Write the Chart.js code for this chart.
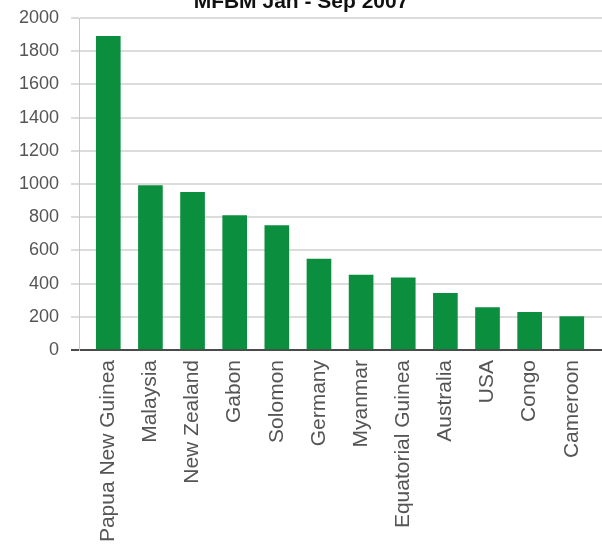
<!DOCTYPE html>
<html>
<head>
<meta charset="utf-8">
<script src="https://cdn.jsdelivr.net/npm/chart.js@4/dist/chart.umd.min.js"></script>
<style>
  html, body { margin: 0; padding: 0; background: #fff; overflow: hidden; }
  /* the reference crops the top of the title, so the canvas starts a little above the page */
  #wrap { width: 602px; height: 562px; margin-top: -10px; }
</style>
</head>
<body>
<div id="wrap"><canvas id="chart" width="602" height="562"></canvas></div>
<script>
const chartTitle = 'MFBM Jan - Sep 2007';
const countries = ['Papua New Guinea', 'Malaysia', 'New Zealand', 'Gabon', 'Solomon', 'Germany',
    'Myanmar', 'Equatorial Guinea', 'Australia', 'USA', 'Congo', 'Cameroon'];
const volumes = [1890, 990, 950, 810, 750, 548, 452, 435, 341, 255, 227, 201];
const yTicks = [0, 200, 400, 600, 800, 1000, 1200, 1400, 1600, 1800, 2000];

document.addEventListener('DOMContentLoaded', function() {
    const ctx = document.getElementById('chart').getContext('2d');
    const font = "'Liberation Sans', Arial, sans-serif";

    // bars are placed on a numeric axis so the left/right margins can match the picture
    const points = volumes.map((v, i) => ({ x: i, y: v }));

    new Chart(ctx, {
        type: 'bar',
        data: {
            datasets: [{
                label: chartTitle,
                data: points,
                backgroundColor: '#0b8e3e',
                borderWidth: 0,
                barThickness: 24
            }]
        },
        options: {
            responsive: false,
            animation: false,
            layout: { padding: 0 },
            plugins: {
                legend: { display: false },
                tooltip: { enabled: false },
                title: {
                    display: true,
                    text: chartTitle,
                    color: '#111',
                    font: { family: font, size: 21, weight: 'bold' },
                    padding: { top: 0, bottom: 2.8 }
                }
            },
            scales: {
                x: {
                    type: 'linear',
                    offset: false,
                    min: -0.695,
                    max: 11.717,
                    grid: { display: false, offset: false },
                    border: { color: '#4a4a4a', width: 2 },
                    ticks: {
                        stepSize: 1,
                        includeBounds: false,
                        autoSkip: false,
                        minRotation: 90,
                        maxRotation: 90,
                        padding: 2,
                        color: '#555',
                        font: { family: font, size: 21 },
                        callback: v => countries[v] ?? ''
                    },
                    afterFit: s => { s.height = 202; }
                },
                y: {
                    min: yTicks[0],
                    max: yTicks[yTicks.length - 1],
                    border: { color: '#c8c8c8', width: 1 },
                    grid: {
                        color: c => c.tick && c.tick.value === 0 ? '#4a4a4a' : '#dcdcdc',
                        lineWidth: 2,
                        tickLength: 8
                    },
                    ticks: {
                        stepSize: 200,
                        padding: 12,
                        color: '#555',
                        font: { family: font, size: 18 },
                        callback: v => String(v)
                    },
                    afterBuildTicks: s => { s.ticks = yTicks.map(v => ({ value: v })); },
                    afterFit: s => { s.width = 79; }
                }
            }
        }
    });
});
</script>
</body>
</html>
